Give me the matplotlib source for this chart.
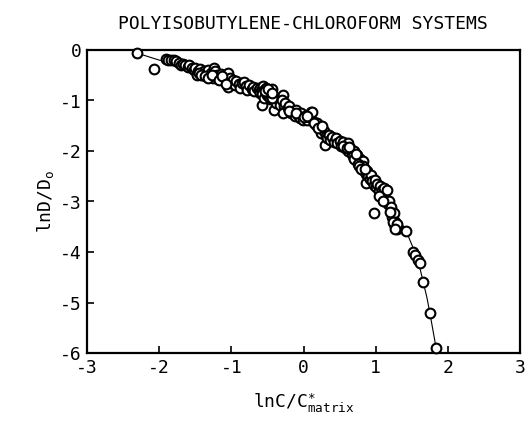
import matplotlib
matplotlib.use("Agg")
import matplotlib.pyplot as plt

plt.rcParams['font.family'] = ['DejaVu Sans Mono']
plt.rcParams['mathtext.fontset'] = 'custom'
plt.rcParams['mathtext.rm'] = 'DejaVu Sans Mono'
plt.rcParams['mathtext.it'] = 'DejaVu Sans Mono'

# measured points (lnC/C*, lnD/D0)
x_pts = [-2.31, -2.07, -1.91, -1.88, -1.84, -1.80, -1.76, -1.72, -1.70, -1.67, -1.64, -1.60,
         -1.58, -1.55, -1.52, -1.50, -1.47, -1.46, -1.43, -1.40, -1.38, -1.35, -1.33, -1.30,
         -1.28, -1.26, -1.24, -1.22, -1.20, -1.18, -1.15, -1.12, -1.10, -1.07, -1.05, -1.05,
         -1.02, -1.00, -0.98, -0.95, -0.93, -0.90, -0.88, -0.85, -0.83, -0.80, -0.78, -0.75,
         -0.72, -0.70, -0.68, -0.65, -0.62, -0.60, -0.60, -0.58, -0.56, -0.55, -0.54, -0.52,
         -0.50, -0.50, -0.48, -0.47, -0.46, -0.45, -0.44, -0.42, -0.40, -0.57, -0.41, -0.38,
         -0.35, -0.32, -0.29, -0.30, -0.27, -0.29, -0.25, -0.22, -0.20, -0.18, -0.15, -0.14,
         -0.12, -0.10, -0.08, -0.05, -0.03, -0.01, 0.02, 0.05, 0.08, 0.10, 0.12, 0.14,
         0.17, 0.19, 0.22, 0.24, 0.26, 0.28, 0.30, 0.31, 0.33, 0.35, 0.37, 0.40,
         0.42, 0.45, 0.47, 0.50, 0.52, 0.55, 0.57, 0.60, 0.61, 0.62, 0.65, 0.67,
         0.70, 0.72, 0.74, 0.76, 0.78, 0.80, 0.82, 0.83, 0.83, 0.86, 0.86, 0.88,
         0.90, 0.92, 0.94, 0.95, 0.97, 0.97, 0.99, 1.00, 1.02, 1.04, 1.06, 1.09,
         1.11, 1.12, 1.14, 1.16, 1.17, 1.19, 1.21, 1.23, 1.25, 1.26, 1.28, 1.27,
         1.30, 1.42, 1.52, 1.54, 1.58, 1.61, 1.66, 1.75, 1.83,
         -0.58, -0.55, -0.52, -0.50, -0.48, -0.46, -0.53, -0.49, -0.44, -0.43,
         0.55, 0.60, 0.63, 0.68, 0.70, 0.73, 0.75, 0.77, 0.80, 0.85,
         -1.45, -1.42, -1.37, -1.32, -1.27, -1.17, -1.13, -1.08,
         1.05, 1.10, 1.20, 1.24, 1.29, 1.27,
         -0.20, -0.10, 0.00, 0.05, 0.15, 0.20, 0.25]
y_pts = [-0.06, -0.38, -0.18, -0.19, -0.20, -0.20, -0.22, -0.25, -0.30, -0.28, -0.30, -0.33,
         -0.30, -0.36, -0.40, -0.35, -0.50, -0.42, -0.38, -0.45, -0.42, -0.48, -0.40, -0.50,
         -0.45, -0.55, -0.36, -0.42, -0.50, -0.55, -0.48, -0.58, -0.52, -0.62, -0.46, -0.73,
         -0.55, -0.65, -0.60, -0.70, -0.62, -0.68, -0.75, -0.65, -0.63, -0.72, -0.80, -0.70,
         -0.78, -0.74, -0.82, -0.76, -0.80, -0.75, -0.85, -0.78, -0.72, -0.80, -0.90, -0.76,
         -0.84, -0.95, -0.80, -0.88, -0.98, -0.85, -0.78, -0.92, -1.00, -1.09, -1.19, -1.05,
         -0.95, -1.09, -0.89, -1.00, -1.10, -1.25, -1.05, -1.15, -1.10, -1.25, -1.20, -1.23,
         -1.30, -1.18, -1.28, -1.35, -1.25, -1.39, -1.30, -1.38, -1.32, -1.23, -1.22, -1.42,
         -1.49, -1.45, -1.52, -1.64, -1.55, -1.60, -1.88, -1.70, -1.75, -1.68, -1.78, -1.72,
         -1.82, -1.75, -1.85, -1.80, -1.90, -1.82, -1.95, -1.88, -1.84, -2.00, -1.95, -2.05,
         -2.00, -2.12, -2.08, -2.18, -2.15, -2.25, -2.20, -2.30, -2.38, -2.45, -2.63, -2.40,
         -2.50, -2.55, -2.48, -2.60, -2.68, -3.23, -2.58, -2.72, -2.65, -2.80, -2.70, -2.77,
         -2.74, -2.90, -3.00, -2.77, -3.05, -3.00, -3.10, -3.30, -3.23, -3.45, -3.50, -3.40,
         -3.55, -3.58, -4.00, -4.05, -4.15, -4.22, -4.60, -5.20, -5.90,
         -0.88, -0.95, -0.85, -0.90, -0.93, -0.90, -0.82, -0.78, -0.95, -0.85,
         -1.90, -1.95, -1.92, -2.10, -2.15, -2.05, -2.25, -2.30, -2.35, -2.35,
         -0.45, -0.50, -0.52, -0.55, -0.50, -0.60, -0.52, -0.68,
         -2.90, -3.00, -3.20, -3.40, -3.45, -3.55,
         -1.20, -1.25, -1.32, -1.30, -1.45, -1.55, -1.50]

# fitted curve
x_fit = [-2.31, -2.0, -1.75, -1.5, -1.25, -1.0, -0.75, -0.5, -0.25, 0.0, 0.25, 0.5,
         0.65, 0.8, 0.9, 1.0, 1.1, 1.2, 1.3, 1.42, 1.52, 1.57, 1.62, 1.66, 1.71, 1.75, 1.8, 1.85]
y_fit = [-0.06, -0.20, -0.28, -0.38, -0.50, -0.62, -0.75, -0.90, -1.08, -1.30, -1.53, -1.80,
         -2.00, -2.20, -2.40, -2.60, -2.82, -3.05, -3.28, -3.58, -3.92, -4.12, -4.36, -4.60,
         -4.90, -5.20, -5.60, -6.00]

title = "POLYISOBUTYLENE-CHLOROFORM SYSTEMS"
xticks = [-3, -2, -1, 0, 1, 2, 3]
yticks = [0, -1, -2, -3, -4, -5, -6]

fig = plt.figure(figsize=(5.26, 4.23), dpi=100)
ax = fig.add_axes([87/526, 1 - 353/423, (520 - 87)/526, (353 - 50)/423])

ax.plot(x_fit, y_fit, color='black', lw=0.8, zorder=2)
ax.plot(x_pts, y_pts, 'o', mfc='white', mec='black', ms=7.0, mew=1.5, zorder=3, clip_on=False)

ax.set_xlim(-3, 3)
ax.set_ylim(-6, 0)
ax.set_xticks(xticks)
ax.set_yticks(yticks)
ax.set_xticklabels([str(t) for t in xticks])
ax.set_yticklabels([str(t) for t in yticks])
ax.tick_params(direction='in', length=5, width=1.2, labelsize=13, pad=4)
for s in ax.spines.values():
    s.set_linewidth(1.6)

ax.set_xlabel(r"lnC/C$^{\ast}_{\mathrm{matrix}}$", fontsize=13, labelpad=11)
ax.set_ylabel(r"lnD/D$_{\mathrm{o}}$", fontsize=13, labelpad=3)
fig.text(303/526, 1 - 24/423, title, ha='center', va='center', fontsize=13)

fig.savefig("out.png", dpi=100)
